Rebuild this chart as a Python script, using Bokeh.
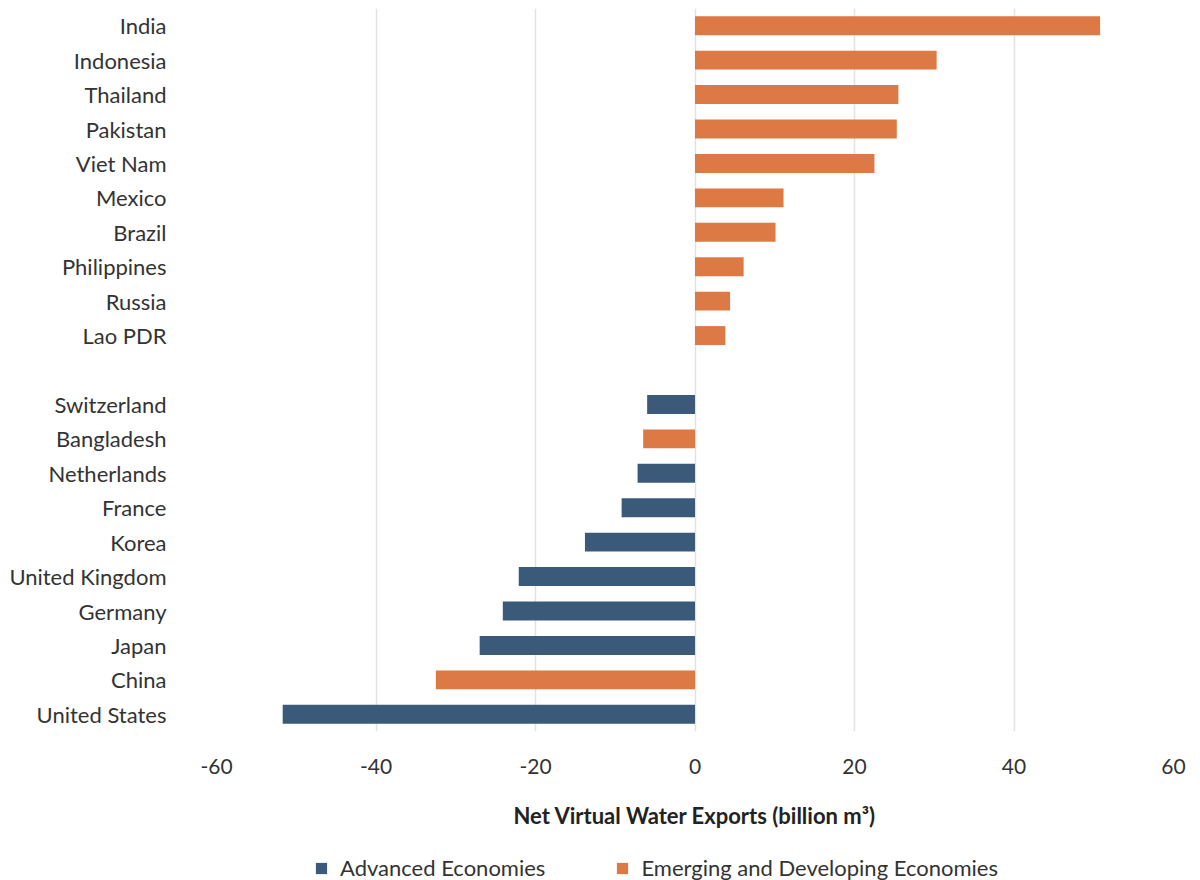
from bokeh.plotting import figure
from bokeh.layouts import column
from bokeh.models import ColumnDataSource, FactorRange, Legend, LegendItem, SingleIntervalTicker, PrintfTickFormatter
from bokeh.embed import file_html
from bokeh.resources import INLINE

# ---- data ----
countries = ["India", "Indonesia", "Thailand", "Pakistan", "Viet Nam", "Mexico", "Brazil",
             "Philippines", "Russia", "Lao PDR",
             "Switzerland", "Bangladesh", "Netherlands", "France", "Korea", "United Kingdom",
             "Germany", "Japan", "China", "United States"]
values = [50.8, 30.3, 25.5, 25.3, 22.5, 11.1, 10.1, 6.1, 4.4, 3.8,
          -6.0, -6.5, -7.2, -9.2, -13.8, -22.1, -24.1, -27.0, -32.5, -51.7]
groups = ["E", "E", "E", "E", "E", "E", "E", "E", "E", "E",
          "A", "E", "A", "A", "A", "A", "A", "A", "E", "A"]
group_names = {"A": "Advanced Economies", "E": "Emerging and Developing Economies"}
colors = {"A": "#3B5A79", "E": "#DD7944"}

FONT = "Lato"
TXT = "#333333"

# factor order: top to bottom, with a spacer between the two blocks
factors = countries[:10] + [" "] + countries[10:]
y_range = FactorRange(factors=list(reversed(factors)), range_padding=0)

p = figure(frame_width=957, frame_height=723, y_range=y_range, x_range=(-60, 60),
           output_backend="svg", toolbar_location=None,
           min_border_top=8, min_border_right=18, min_border_left=216, min_border_bottom=112)

for g in ["A", "E"]:
    src = ColumnDataSource(dict(
        y=[c for c, gg in zip(countries, groups) if gg == g],
        right=[v for v, gg in zip(values, groups) if gg == g],
    ))
    p.hbar(y="y", left=0, right="right", height=0.55, source=src,
           fill_color=colors[g], line_color=None)

p.outline_line_color = None
p.background_fill_color = "white"
p.border_fill_color = "white"

# x axis
p.xaxis.ticker = SingleIntervalTicker(interval=20)
p.xaxis.formatter = PrintfTickFormatter(format="%d")
p.xaxis.axis_line_color = None
p.xaxis.major_tick_line_color = None
p.xaxis.minor_tick_line_color = None
p.xaxis.major_label_text_font = FONT
p.xaxis.major_label_text_font_size = "21px"
p.xaxis.major_label_text_color = TXT
p.xaxis.major_label_standoff = 21
p.xaxis.axis_label = "Net Virtual Water Exports (billion m³)"
p.xaxis.axis_label_text_font = FONT
p.xaxis.axis_label_text_font_size = "22px"
p.xaxis.axis_label_text_font_style = "bold"
p.xaxis.axis_label_text_color = "#222222"
p.xaxis.axis_label_standoff = 25

# y axis
p.yaxis.axis_line_color = None
p.yaxis.major_tick_line_color = None
p.yaxis.minor_tick_line_color = None
p.yaxis.major_label_text_font = FONT
p.yaxis.major_label_text_font_size = "22px"
p.yaxis.major_label_text_color = TXT
p.yaxis.major_label_standoff = 44

# grid
p.xgrid.grid_line_color = "#E2E2E2"
p.xgrid.grid_line_width = 1.5
p.ygrid.grid_line_color = None

# ---- legend strip (separate small figure below the chart) ----
q = figure(frame_width=957, frame_height=48, x_range=(0, 1), y_range=(0, 1),
           output_backend="svg", toolbar_location=None,
           min_border_top=0, min_border_bottom=0, min_border_right=18, min_border_left=216)
q.axis.visible = False
q.grid.visible = False
q.outline_line_color = None
leg_renderers = {}
for g in ["A", "E"]:
    # one off-screen swatch per group so the legend has a glyph to draw
    leg_renderers[g] = q.hbar(y=[-10], left=[0], right=[0.1], height=0.5,
                              fill_color=colors[g], line_color=None)

legend = Legend(items=[LegendItem(label=group_names["A"], renderers=[leg_renderers["A"]]),
                       LegendItem(label=group_names["E"], renderers=[leg_renderers["E"]])],
                orientation="horizontal", location=(98, 10),
                label_text_font=FONT, label_text_font_size="22px", label_text_color=TXT,
                glyph_width=14, glyph_height=14, spacing=70, label_standoff=12,
                border_line_color=None, background_fill_alpha=0, margin=0, padding=2)
q.add_layout(legend, "center")

layout = column(p, q, spacing=0)
open("out.html", "w").write(file_html(layout, INLINE))
